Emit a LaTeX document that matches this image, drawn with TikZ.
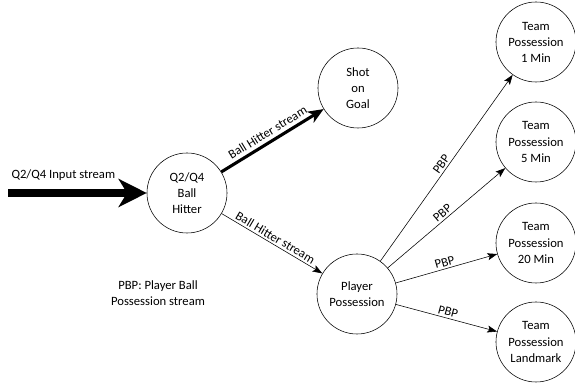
\documentclass[tikz,border=0pt]{standalone}
\usepackage{fontspec}
\setmainfont{Carlito}
\usetikzlibrary{arrows.meta, positioning}

\begin{document}
\begin{tikzpicture}[x=0.025cm, y=-0.025cm,
    every node/.style={font=\fontsize{9}{11.4}\selectfont},
    stage/.style={circle, draw, thin, minimum size=2cm, inner sep=1pt, align=center},
    feed/.style={-{Stealth[length=7pt, width=5pt, inset=1.5pt]}, thin},
    bigfeed/.style={-{Stealth[length=11pt, width=9pt, inset=3pt]}, line width=2.2pt},
    inputfeed/.style={-{Stealth[length=20pt, width=20pt, inset=6pt]}, line width=5pt},
    tag/.style={midway, sloped, above, inner sep=1.5pt}]
  \useasboundingbox (0,0) rectangle (575,385);

  \node[stage] (hitter) at (187,193) {Q2/Q4\\Ball\\Hitter};
  \node[stage] (shot)   at (358,88)  {Shot\\on\\Goal};
  \node[stage] (player) at (357,294) {Player\\Possession};
  \node[stage] (team1)  at (536,42)  {Team\\Possession\\1 Min};
  \node[stage] (team5)  at (536,142) {Team\\Possession\\5 Min};
  \node[stage] (team20) at (536,243) {Team\\Possession\\20 Min};
  \node[stage] (teamlm) at (536,342) {Team\\Possession\\Landmark};

  \coordinate (src) at (8,193);
  \draw[inputfeed] (src) -- (hitter)
    node[pos=0, anchor=south west, inner xsep=0pt, yshift=3pt] {Q2/Q4 Input stream};

  \draw[bigfeed] (hitter) -- (shot) node[tag, inner sep=2.5pt] {Ball Hitter stream};
  \draw[feed] (hitter) -- (player) node[tag] {Ball Hitter stream};

  \foreach \t in {team1, team5, team20, teamlm}{
    \draw[feed] (player) -- (\t) node[tag] {PBP};
    };

  \node[align=center] (legend) at (158,293) {PBP: Player Ball\\Possession stream};
\end{tikzpicture}
\end{document}
